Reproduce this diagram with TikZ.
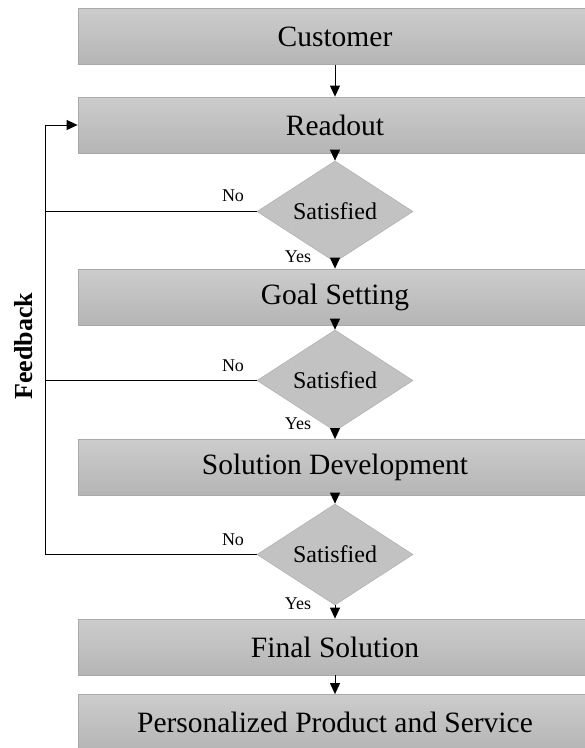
\documentclass[tikz,border=0pt]{standalone}
\usepackage{fontspec}
\setmainfont{Liberation Serif}
\usetikzlibrary{shapes.geometric,arrows.meta}
\definecolor{boxtop}{RGB}{204,204,205}
\definecolor{boxbot}{RGB}{181,181,182}
\definecolor{boxline}{RGB}{170,170,170}
\definecolor{diafill}{RGB}{194,194,195}
\definecolor{dialine}{RGB}{178,178,178}
\tikzset{
  stagebox/.style={rectangle, minimum width=514pt, minimum height=56pt, inner sep=0pt,
    top color=boxtop, bottom color=boxbot, draw=boxline, line width=0.8pt,
    font=\fontsize{29.5}{31}\selectfont},
  decision/.style={diamond, minimum width=156pt, minimum height=77pt, inner sep=0pt,
    fill=diafill, draw=dialine, line width=0.6pt,
    font=\fontsize{24}{26}\selectfont},
  flow/.style={line width=1pt, -{Triangle[length=11pt,width=10pt]}},
  fbline/.style={line width=1pt},
  answer/.style={font=\fontsize{18}{20}\selectfont, inner sep=0pt},
}
\begin{document}
\begin{tikzpicture}[x=1pt,y=-1pt]
\useasboundingbox (0,0) rectangle (585,748);
\begin{scope}
\clip (0,0) rectangle (585,748);
% process stages
\node[stagebox] (cust)  at (335,36.5)  {Customer};
\node[stagebox] (read)  at (335,125)   {Readout};
\node[stagebox] (goal)  at (335,297)   {Goal Setting};
\node[stagebox] (sol)   at (335,467.5) {Solution Development};
\node[stagebox] (fin)   at (335,647)   {Final Solution};
\node[stagebox] (pers)  at (335,722.5) {Personalized Product and Service};
% decisions
\node[decision] (d1) at (335,211.5) {Satisfied};
\node[decision] (d2) at (335,380.5) {Satisfied};
\node[decision] (d3) at (335,554.5) {Satisfied};
\end{scope}
% main flow
\draw[flow] (cust) -- (read);
\draw[flow] (read) -- (d1);
\draw[flow] (d1) -- (goal);
\draw[flow] (goal) -- (d2);
\draw[flow] (d2) -- (sol);
\draw[flow] (sol) -- (d3);
\draw[flow] (d3) -- (fin);
\draw[flow] (fin) -- (pers);
% feedback loop
\coordinate (fbtop) at (45,125);
\coordinate (fb1) at (45,211.5);
\coordinate (fb2) at (45,380.5);
\coordinate (fb3) at (45,554.5);
\draw[fbline] (d1.west) -- (fb1);
\draw[fbline] (d2.west) -- (fb2);
\draw[fbline] (d3.west) -- (fb3) -- (fbtop);
\draw[flow] (fbtop) -- (read.west);
% answer labels
\node[answer] (no1)  at (233,196)   {No};
\node[answer] (no2)  at (233,365.5) {No};
\node[answer] (no3)  at (233,540)   {No};
\node[answer] (yes1) at (298,257)   {Yes};
\node[answer] (yes2) at (298,424)   {Yes};
\node[answer] (yes3) at (298,604)   {Yes};
\node[rotate=90, font=\fontsize{26}{28}\selectfont\bfseries, inner sep=0pt] (fbtext) at (24,346) {Feedback};
\end{tikzpicture}
\end{document}
